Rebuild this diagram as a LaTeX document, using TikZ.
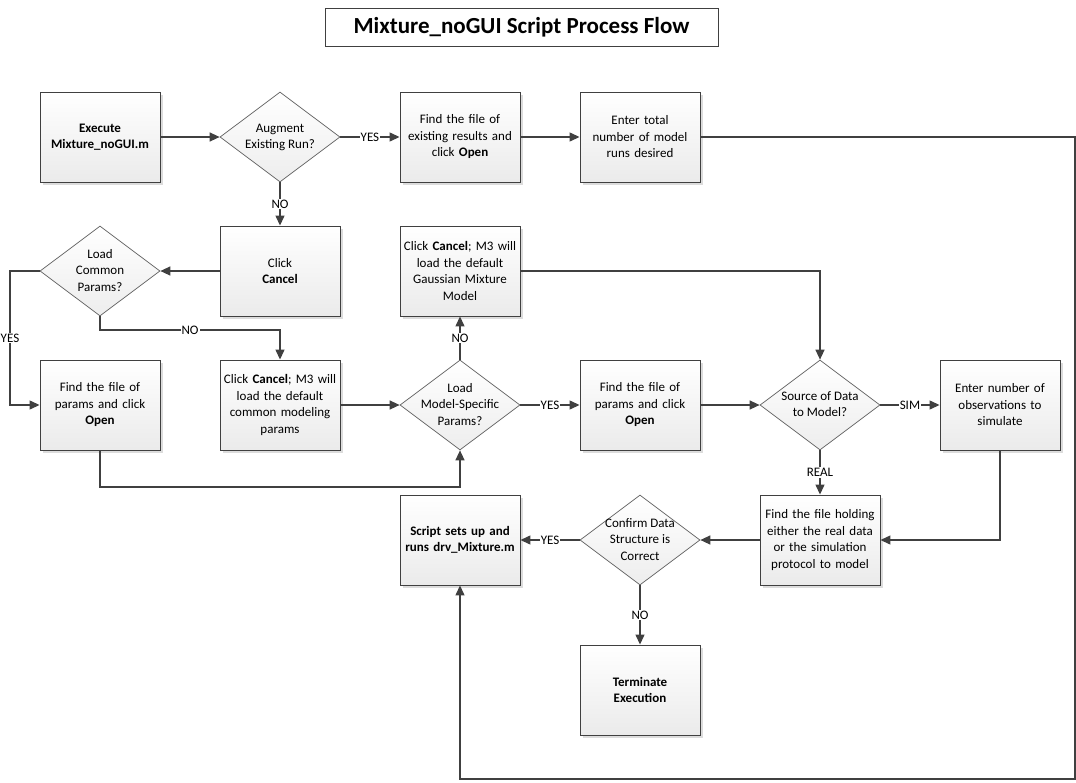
\documentclass[tikz,border=0pt]{standalone}
\usepackage{fontspec}
\setmainfont{Carlito}
\usetikzlibrary{shapes.geometric,arrows.meta,shadows}
\definecolor{linegray}{HTML}{404040}
\definecolor{shadowgray}{HTML}{DCDCDC}
\newcommand{\dtext}[1]{\makebox[0pt]{\raisebox{-3.2pt}[0pt][0pt]{\begin{tabular}{@{}c@{}}#1\end{tabular}}}}
\tikzset{
  stepbox/.style={draw=linegray, line width=0.9pt, top color=white, bottom color=black!8,
    minimum width=120pt, minimum height=90pt, inner sep=2pt, text width=114pt, align=center,
    drop shadow={shadow xshift=3pt, shadow yshift=-3pt, fill=shadowgray, opacity=1}},
  decision/.style={draw=linegray!85, line width=0.7pt, diamond, aspect=1.333,
    top color=white, bottom color=black!7, minimum width=120pt, minimum height=90pt, inner sep=0pt},
  flow/.style={draw=linegray, line width=1.3pt, -{Triangle[length=10pt,width=9pt]}},
  lbl/.style={fill=white, inner sep=1pt, font=\fontsize{13}{15}\selectfont, text=black}
}
\begin{document}
\begin{tikzpicture}[x=1pt, y=-1pt, font=\fontsize{13}{16.5}\selectfont]
  \useasboundingbox (0,0) rectangle (1076,782);
  \node[draw=linegray, line width=0.8pt, minimum width=393pt, minimum height=38pt,
    font=\fontsize{23}{27}\selectfont\bfseries] (title) at (521.5,27) {Mixture\_noGUI Script Process Flow};

  \node[stepbox] (exec) at (100,137) {\textbf{Execute}\\\textbf{Mixture\_noGUI.m}};
  \node[decision] (augment) at (280,137) {\dtext{Augment\\Existing Run?}};
  \node[stepbox] (findres) at (460,137) {Find the file of\\existing results and\\click \textbf{Open}};
  \node[stepbox] (entertot) at (640,137) {Enter total\\number of model\\runs desired};

  \node[decision] (loadcom) at (100,271) {\dtext{Load\\Common\\Params?}};
  \node[stepbox] (cancel) at (280,271) {Click\\\textbf{Cancel}};
  \node[stepbox] (gauss) at (460,271) {Click \textbf{Cancel}; M3 will\\load the default\\Gaussian Mixture\\Model};

  \node[stepbox] (findpar) at (100,405) {Find the file of\\params and click\\\textbf{Open}};
  \node[stepbox] (cancom) at (280,405) {Click \textbf{Cancel}; M3 will\\load the default\\common modeling\\params};
  \node[decision] (loadspec) at (460,405) {\dtext{Load\\Model-Specific\\Params?}};
  \node[stepbox] (findspec) at (640,405) {Find the file of\\params and click\\\textbf{Open}};
  \node[decision] (source) at (820,405) {\dtext{Source of Data\\to Model?}};
  \node[stepbox] (enterobs) at (1000,405) {Enter number of\\observations to\\simulate};

  \node[stepbox] (script) at (460,540) {\textbf{Script sets up and}\\\textbf{runs drv\_Mixture.m}};
  \node[decision] (confirm) at (640,540) {\dtext{Confirm Data\\Structure is\\Correct}};
  \node[stepbox] (findhold) at (820,540) {Find the file holding\\either the real data\\or the simulation\\protocol to model};
  \node[stepbox] (term) at (640,690) {\textbf{Terminate}\\\textbf{Execution}};

  \coordinate (loopright) at (1075,137);
  \coordinate (loopbottom) at (1075,779);
  \coordinate (yesleft) at (10,271);
  \coordinate (nobend) at (100,330);
  \coordinate (parbend) at (100,487);

  \begin{scope}[flow]
    \draw (exec) -- (augment);
    \draw (augment) -- node[lbl]{YES} (findres);
    \draw (findres) -- (entertot);
    \draw (entertot) -- (loopright) -- (loopbottom) -| (script);
    \draw (augment) -- node[lbl]{NO} (cancel);
    \draw (cancel) -- (loadcom);
    \draw (loadcom.west) -- (yesleft) |- node[lbl, pos=0.25]{YES} (findpar);
    \draw (loadcom.south) -- (nobend) -| node[lbl, pos=0.25]{NO} (cancom);
    \draw (findpar.south) -- (parbend) -| (loadspec.south);
    \draw (cancom) -- (loadspec);
    \draw (loadspec) -- node[lbl]{NO} (gauss);
    \draw (loadspec) -- node[lbl]{YES} (findspec);
    \draw (gauss) -| (source);
    \draw (findspec) -- (source);
    \draw (source) -- node[lbl]{SIM} (enterobs);
    \draw (source) -- node[lbl]{REAL} (findhold);
    \draw (enterobs) |- (findhold);
    \draw (findhold) -- (confirm);
    \draw (confirm) -- node[lbl]{YES} (script);
    \draw (confirm) -- node[lbl]{NO} (term);
  \end{scope}
\end{tikzpicture}
\end{document}
